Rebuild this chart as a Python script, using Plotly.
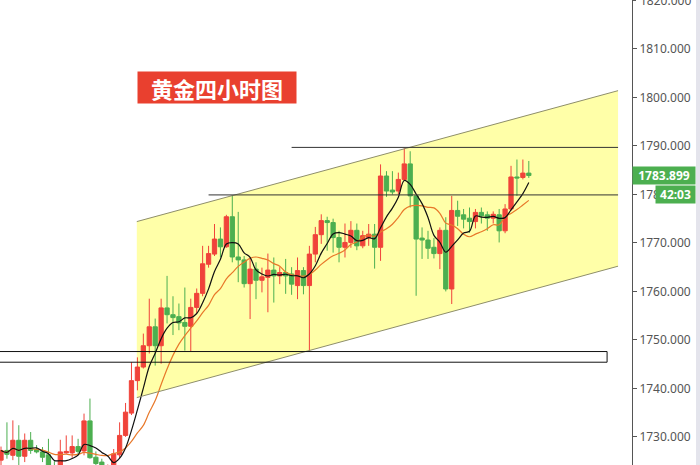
import plotly.graph_objects as go
import pandas as pd

# ---- candle data (4h gold) ----
opens = [1725.2, 1727.2, 1726.2, 1729.3, 1726.0, 1729.3, 1727.4, 1726.9, 1726.3, 1723.5,
         1723.0, 1726.7, 1726.7, 1728.0, 1727.1, 1733.3, 1725.8, 1724.8, 1721.5, 1723.2,
         1726.3, 1730.3, 1734.9, 1741.6, 1744.4, 1748.8, 1752.7, 1748.8, 1756.6, 1755.2,
         1754.8, 1753.6, 1752.8, 1756.7, 1759.6, 1765.6, 1767.7, 1770.8, 1769.2, 1775.4,
         1767.1, 1766.5, 1761.6, 1764.6, 1762.3, 1762.9, 1764.4, 1763.2, 1763.9, 1763.6,
         1761.2, 1764.3, 1761.2, 1767.7, 1771.7, 1774.6, 1774.2, 1771.1, 1769.1, 1770.1,
         1772.6, 1769.4, 1771.1, 1771.8, 1769.1, 1783.8, 1780.9, 1780.7, 1783.1, 1786.3,
         1779.7, 1771.0, 1770.6, 1769.1, 1767.8, 1772.6, 1760.5, 1776.7, 1775.8, 1775.1,
         1774.4, 1776.3, 1775.8, 1775.1, 1775.8, 1772.5, 1777.0, 1783.6, 1783.5, 1784.4]
highs = [1728.0, 1733.0, 1733.4, 1732.4, 1730.7, 1731.0, 1728.3, 1727.9, 1729.6, 1725.0,
         1729.4, 1730.3, 1730.3, 1729.6, 1734.8, 1737.9, 1727.0, 1725.5, 1724.3, 1727.5,
         1733.0, 1737.0, 1745.4, 1746.4, 1751.3, 1758.5, 1754.4, 1758.5, 1763.2, 1759.0,
         1757.5, 1760.8, 1758.5, 1760.6, 1769.4, 1769.4, 1773.9, 1773.2, 1775.8, 1779.7,
         1776.4, 1767.3, 1767.0, 1766.0, 1764.9, 1767.8, 1767.0, 1765.0, 1766.7, 1765.0,
         1767.0, 1765.0, 1769.4, 1773.3, 1775.9, 1775.4, 1775.0, 1772.5, 1774.0, 1774.5,
         1774.0, 1772.5, 1773.9, 1773.9, 1786.2, 1784.8, 1784.8, 1784.5, 1789.6, 1788.9,
         1779.8, 1773.2, 1772.5, 1771.0, 1773.2, 1775.3, 1779.7, 1778.7, 1777.0, 1777.3,
         1777.0, 1777.3, 1776.5, 1776.5, 1777.0, 1778.0, 1785.9, 1787.2, 1787.2, 1786.9]
lows = [1724.0, 1725.5, 1725.2, 1724.1, 1724.8, 1726.5, 1726.6, 1724.8, 1722.5, 1721.0,
        1722.0, 1726.5, 1725.7, 1726.2, 1726.2, 1725.5, 1722.5, 1722.0, 1720.8, 1722.0,
        1725.5, 1730.0, 1734.5, 1739.6, 1744.1, 1747.2, 1744.7, 1745.1, 1753.4, 1751.0,
        1752.0, 1747.8, 1747.6, 1755.5, 1759.0, 1764.9, 1767.3, 1767.0, 1769.0, 1766.0,
        1761.9, 1760.8, 1754.3, 1758.4, 1759.8, 1755.7, 1757.7, 1761.5, 1759.5, 1759.3,
        1758.4, 1759.4, 1747.7, 1766.0, 1769.8, 1768.4, 1768.0, 1766.0, 1767.0, 1769.0,
        1768.5, 1768.9, 1769.4, 1764.7, 1766.3, 1779.5, 1780.0, 1780.0, 1782.8, 1777.3,
        1759.1, 1766.7, 1766.7, 1766.8, 1764.6, 1760.0, 1757.4, 1773.5, 1773.0, 1772.1,
        1773.0, 1774.0, 1772.5, 1774.0, 1770.1, 1772.0, 1776.6, 1779.7, 1783.1, 1783.4]
closes = [1727.2, 1726.4, 1729.3, 1726.0, 1729.3, 1727.2, 1726.9, 1725.8, 1723.5, 1722.3,
          1726.9, 1727.0, 1728.0, 1727.0, 1733.3, 1725.7, 1724.5, 1723.5, 1723.2, 1726.5,
          1730.3, 1735.1, 1741.6, 1744.4, 1748.8, 1752.7, 1748.8, 1756.6, 1755.2, 1754.6,
          1753.5, 1752.8, 1756.7, 1759.6, 1765.7, 1767.8, 1770.8, 1769.2, 1775.4, 1767.1,
          1766.5, 1761.6, 1764.6, 1762.3, 1763.0, 1764.4, 1763.2, 1763.9, 1763.2, 1761.5,
          1764.3, 1761.2, 1767.7, 1771.7, 1774.6, 1774.2, 1771.1, 1769.1, 1770.1, 1772.6,
          1769.4, 1771.5, 1771.8, 1769.1, 1783.8, 1780.7, 1780.5, 1783.1, 1786.3, 1779.7,
          1770.8, 1770.6, 1768.9, 1767.8, 1772.6, 1760.5, 1776.7, 1775.5, 1774.9, 1774.4,
          1776.3, 1775.6, 1775.1, 1775.9, 1772.5, 1777.0, 1783.6, 1783.4, 1784.4, 1783.899]
bars = list(range(len(closes)))

# ---- drawing objects (bar index / price) ----
channel_x = [22.9, 104.05, 104.05, 22.9]
channel_y = [1774.4, 1801.4, 1765.2, 1738.1]
hline_prices = [1789.7, 1779.9]
hline_start = [49.0, 35.0]
hline_end = 104.05
zone_low, zone_high = 1745.4, 1747.6
zone_end = 102.2
y_ticks = [1730, 1740, 1750, 1760, 1770, 1780, 1790, 1800, 1810]
top_tick = 1820
last_price = 1783.899
countdown = "42:03"
title_text = "黄金四小时图"

RED = "#F0433A"
GREEN = "#4CAF50"
AXIS_FONT = dict(family="Noto Sans", size=12, color="#555555")

cs = pd.Series(closes)
ma5 = cs.rolling(5, min_periods=1).mean()
ma10 = cs.rolling(10, min_periods=1).mean()

fig = go.Figure()
fig.add_trace(go.Candlestick(
    x=bars, open=opens, high=highs, low=lows, close=closes,
    increasing=dict(line=dict(color=RED, width=1), fillcolor=RED),
    decreasing=dict(line=dict(color=GREEN, width=1), fillcolor=GREEN),
    whiskerwidth=0, hoverinfo="skip", showlegend=False))
fig.add_trace(go.Scatter(x=bars, y=ma10, mode="lines",
                         line=dict(color="#E8782A", width=1.2, shape="spline"),
                         hoverinfo="skip", showlegend=False))
fig.add_trace(go.Scatter(x=bars, y=ma5, mode="lines",
                         line=dict(color="#111111", width=1.2, shape="spline"),
                         hoverinfo="skip", showlegend=False))

shapes = []
path = "M {} {} L {} {} L {} {} L {} {} Z".format(
    channel_x[0], channel_y[0], channel_x[1], channel_y[1],
    channel_x[2], channel_y[2], channel_x[3], channel_y[3])
shapes.append(dict(type="path", path=path, xref="x", yref="y", layer="below",
                   fillcolor="#FFFFA8", line=dict(width=0)))
shapes.append(dict(type="line", xref="x", yref="y", x0=channel_x[0], y0=channel_y[0],
                   x1=channel_x[1], y1=channel_y[1], line=dict(color="#8E8E6A", width=1)))
shapes.append(dict(type="line", xref="x", yref="y", x0=channel_x[3], y0=channel_y[3],
                   x1=channel_x[2], y1=channel_y[2], line=dict(color="#8E8E6A", width=1)))
for p, s in zip(hline_prices, hline_start):
    shapes.append(dict(type="line", xref="x", yref="y", x0=s, x1=hline_end, y0=p, y1=p,
                       line=dict(color="#333333", width=1)))
shapes.append(dict(type="rect", xref="x", yref="y", x0=-1, x1=zone_end, y0=zone_low, y1=zone_high,
                   line=dict(color="#111111", width=1), fillcolor="rgba(0,0,0,0)"))
shapes.append(dict(type="rect", xref="paper", yref="paper", x0=696/632, x1=700/632, y0=0, y1=1,
                   line=dict(width=0), fillcolor="#E4E4EC"))
# tick mark for the top (partly cut) level
shapes.append(dict(type="line", xref="paper", yref="y", x0=1, x1=1 + 4/632, y0=top_tick, y1=top_tick,
                   line=dict(color="#555555", width=1)))

annotations = [
    dict(xref="paper", yref="paper", x=137/632, y=1 - 71/465, xanchor="left", yanchor="top",
         text="<b>" + title_text + "</b>", showarrow=False, bgcolor="#E9402F",
         font=dict(family="Noto Sans CJK SC", size=22, color="white"),
         width=154, height=27, borderpad=2),
    dict(xref="paper", yref="y", x=1, y=top_tick, xanchor="left", yanchor="middle", xshift=6,
         text="{:.3f}".format(top_tick), showarrow=False, font=AXIS_FONT),
    dict(xref="paper", yref="y", x=1, y=last_price, xanchor="left", yanchor="middle",
         text="<b>{:.3f}</b>".format(last_price), showarrow=False, bgcolor=GREEN,
         font=dict(family="Noto Sans", size=12, color="white"), width=60, height=15, borderpad=1),
    dict(xref="paper", yref="y", x=655/632, y=last_price, xanchor="left", yanchor="top",
         yshift=-9, text="<b>" + countdown + "</b>", showarrow=False, bgcolor=GREEN,
         font=dict(family="Noto Sans", size=12, color="white"), width=37, height=15, borderpad=1),
]

fig.update_layout(
    width=700, height=465, margin=dict(l=0, r=68, t=0, b=0, autoexpand=False),
    paper_bgcolor="white", plot_bgcolor="white",
    shapes=shapes, annotations=annotations,
    xaxis=dict(range=[-0.17, 106.4], visible=False, rangeslider=dict(visible=False),
               showgrid=False, fixedrange=True, automargin=False),
    yaxis=dict(range=[1724.2, 1820.1], side="right", tickvals=y_ticks,
               ticktext=["{:.3f}".format(v) for v in y_ticks], automargin=False,
               showgrid=False, zeroline=False, showline=True, linecolor="#555555", linewidth=1,
               ticks="outside", ticklen=4, tickcolor="#555555", fixedrange=True,
               tickfont=AXIS_FONT),
    boxgap=0.28, boxgroupgap=0.0,
    hovermode=False,
)

fig.write_html("out.html", config={"displayModeBar": False, "staticPlot": True},
               post_script="document.body.style.margin='0';document.body.style.overflow='hidden';")
